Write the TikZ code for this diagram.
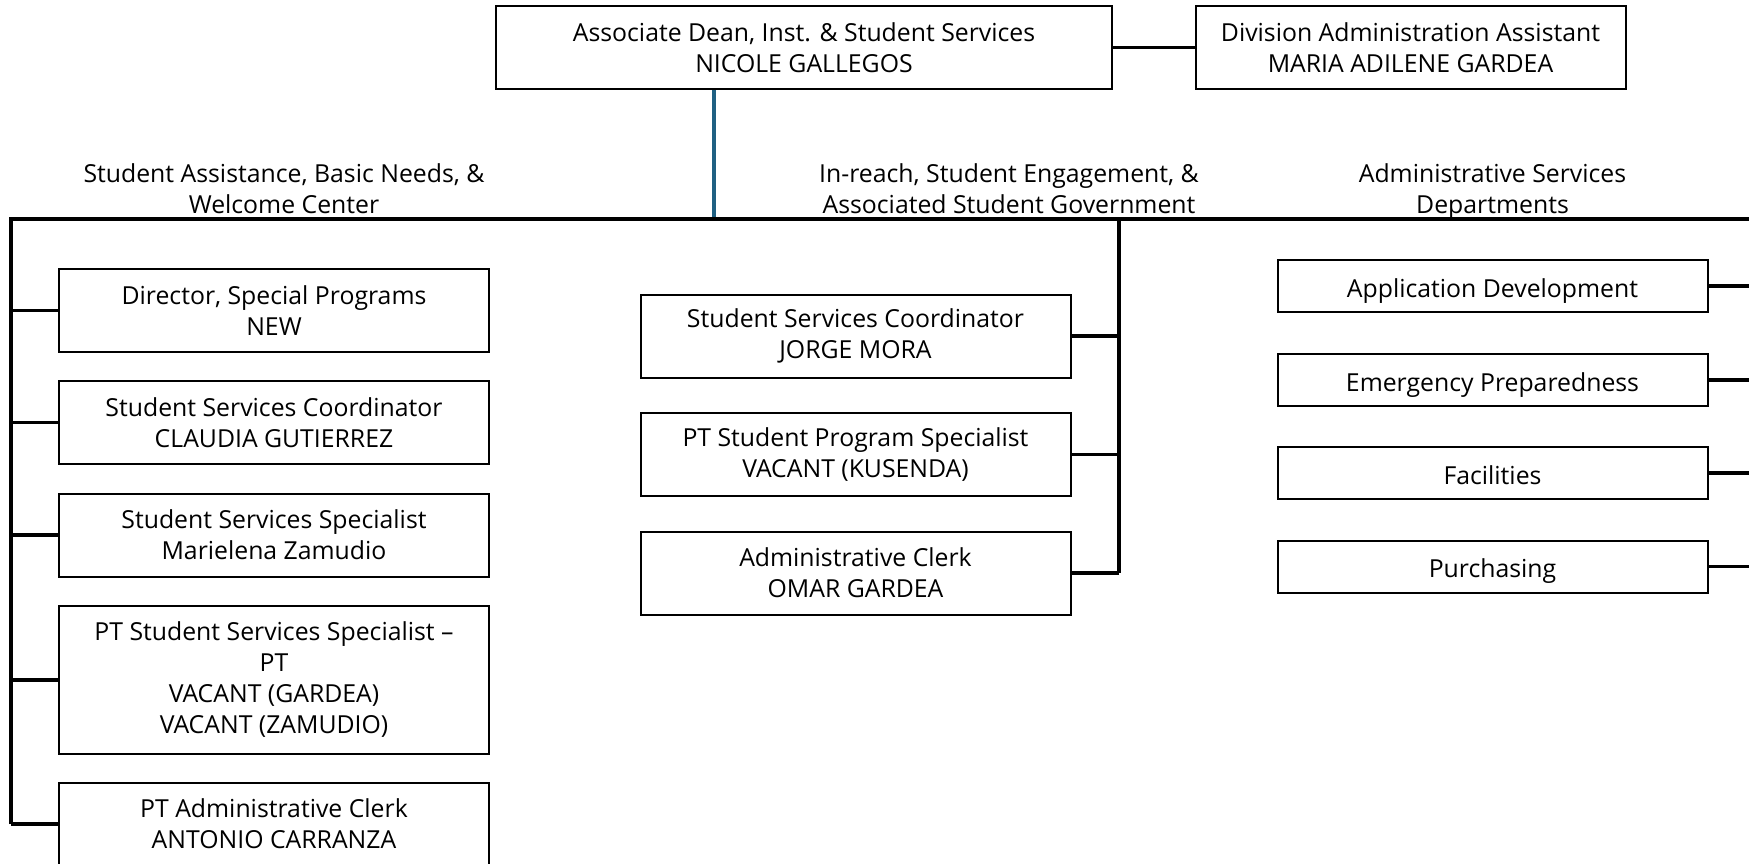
\documentclass[tikz,border=0pt]{standalone}
\usepackage{fontspec}
\setmainfont{Open Sans}
\usetikzlibrary{positioning}
\tikzstyle{post} = [draw, rectangle, line width=1pt, align=center,
inner sep=0pt, minimum width=215pt, minimum height=41.5pt,
font=\fontsize{12.4}{15.5}\selectfont]
\tikzstyle{line} = [draw, line width=1.9pt]
\definecolor{stemblue}{RGB}{31,96,130}

\begin{document}
\begin{tikzpicture}[x=0.5pt, y=-0.5pt,
    dept/.style={post, minimum height=26pt, text height=11pt, text depth=0pt},
    head/.style={align=center, font=\fontsize{12.4}{15.5}\selectfont}]
    \useasboundingbox (0,0) rectangle (1749,863);
    %% Top
    \node[post, minimum width=308pt] (dean) at (804,47.5) {Associate Dean, Inst. \& Student Services\\NICOLE GALLEGOS};
    \node[post] (asst) at (1410.5,47.5) {Division Administration Assistant\\MARIA ADILENE GARDEA};
    %% Bus
    \coordinate (lbus) at (11,219);
    \coordinate (stem) at (714,219);
    \coordinate (mbus) at (1119,219);
    \coordinate (rbus) at (1749,219);
    %% Group titles
    \node[head] (hleft) at (284,192) {\strut Student Assistance, Basic Needs, \&\\\strut Welcome Center};
    \node[head] (hmid) at (1009,192) {\strut In-reach, Student Engagement, \&\\\strut Associated Student Government};
    \node[head] (hright) at (1492.5,192) {\strut Administrative Services\\\strut Departments};
    %% Left column
    \node[post] (L1) at (274,310.5) {Director, Special Programs\\NEW};
    \node[post] (L2) at (274,422.5) {Student Services Coordinator\\CLAUDIA GUTIERREZ};
    \node[post] (L3) at (274,535) {Student Services Specialist\\Marielena Zamudio};
    \node[post, minimum height=74pt] (L4) at (274,680) {PT Student Services Specialist --\\PT\\VACANT (GARDEA)\\VACANT (ZAMUDIO)};
    \node[post] (L5) at (274,824) {PT Administrative Clerk\\ANTONIO CARRANZA};
    %% Middle column
    \node[post] (M1) at (855.5,336) {Student Services Coordinator\\JORGE MORA};
    \node[post] (M2) at (855.5,454.5) {PT Student Program Specialist\\VACANT (KUSENDA)};
    \node[post] (M3) at (855.5,573) {Administrative Clerk\\OMAR GARDEA};
    %% Right column
    \node[dept] (R1) at (1492.5,286) {Application Development};
    \node[dept] (R2) at (1492.5,380) {Emergency Preparedness};
    \node[dept] (R3) at (1492.5,473) {Facilities};
    \node[dept] (R4) at (1492.5,566.5) {Purchasing};
    %% Lines
    \path [line] (dean.east) -- (asst.west);
    \path [line, stemblue] (stem |- dean.south) -- (stem);
    \path [line] (lbus |- L5.west) -- (lbus) -- (rbus);
    \path [line] (mbus) -- (mbus |- M3.east);
    \foreach \n in {L1,L2,L3,L4,L5}
        \path [line] (\n.west) -- (\n.west -| lbus);
    \foreach \n in {M1,M2,M3}
        \path [line] (\n.east) -- (\n.east -| mbus);
    \foreach \n in {R1,R2,R3,R4}
        \path [line] (\n.east) -- (\n.east -| rbus);
\end{tikzpicture}
\end{document}
